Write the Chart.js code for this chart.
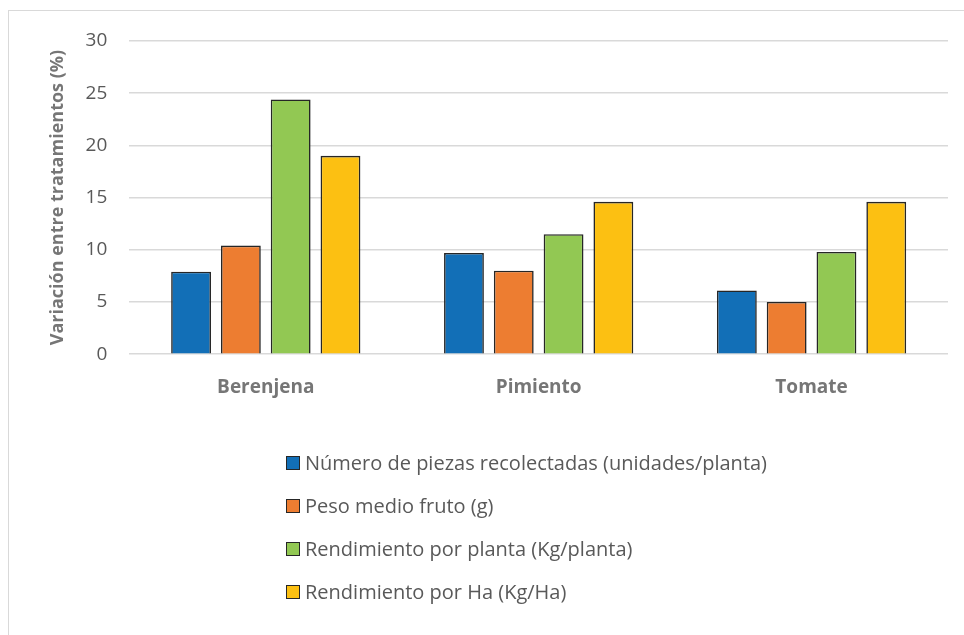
<!DOCTYPE html>
<html lang="es">
<head>
<meta charset="utf-8">
<title>Variación entre tratamientos</title>
<script src="https://cdn.jsdelivr.net/npm/chart.js@4/dist/chart.umd.min.js"></script>
<style>
  html, body { margin: 0; padding: 0; background: #ffffff; overflow: hidden; }
  #wrap { position: relative; width: 964px; height: 635px; }
  #frame { position: absolute; left: 8px; top: 10px; width: 1000px; height: 700px;
           border: 1.5px solid #d9d9d9; box-sizing: border-box; }
  #chart { position: absolute; left: 0; top: 0; }
  #legend { position: absolute; left: 286px; top: 441px; margin: 0; padding: 0; list-style: none;
            font-family: "Open Sans", sans-serif; font-size: 20px; color: #595959; }
  #legend li { display: flex; align-items: center; height: 43px; white-space: nowrap; }
  #legend .box { width: 14px; height: 14px; border: 1.5px solid #262626; box-sizing: border-box;
                 margin-right: 5px; flex: none; }
</style>
</head>
<body>
<div id="wrap">
  <div id="frame"></div>
  <canvas id="chart" width="964" height="635"></canvas>
  <ul id="legend"></ul>
</div>
<script>
// Cultivos
const categories = ['Berenjena', 'Pimiento', 'Tomate'];

// Variación (%) de cada variable por cultivo
const piezasRecolectadas = [7.9, 9.7, 6.1];
const pesoMedioFruto     = [10.4, 8.0, 5.0];
const rendPorPlanta      = [24.4, 11.5, 9.8];
const rendPorHa          = [19.0, 14.6, 14.6];

const seriesNames = [
  'Número de piezas recolectadas (unidades/planta)',
  'Peso medio fruto (g)',
  'Rendimiento por planta (Kg/planta)',
  'Rendimiento por Ha (Kg/Ha)'
];
const seriesColors = ['#126fb7', '#ed7d31', '#92c853', '#fcc012'];

const yTicks = [0, 5, 10, 15, 20, 25, 30];

const FONT = '"Open Sans", sans-serif';

const seriesValues = [piezasRecolectadas, pesoMedioFruto, rendPorPlanta, rendPorHa];
const datasets = seriesValues.map((vals, i) => ({
  label: seriesNames[i],
  data: vals,
  backgroundColor: seriesColors[i],
  borderColor: '#262626',
  borderWidth: 1.6,
  categoryPercentage: 0.73,
  barPercentage: 0.8
}));

// Vertical legend rendered as a list beneath the canvas
const htmlLegend = {
  id: 'htmlLegend',
  afterUpdate(chart) {
    const ul = document.getElementById('legend');
    ul.innerHTML = '';
    const items = Chart.defaults.plugins.legend.labels.generateLabels(chart);
    items.forEach(item => {
      const li = document.createElement('li');
      const box = document.createElement('span');
      box.className = 'box';
      box.style.background = item.fillStyle;
      const txt = document.createElement('span');
      txt.textContent = item.text;
      li.appendChild(box);
      li.appendChild(txt);
      ul.appendChild(li);
    });
  }
};

new Chart(document.getElementById('chart'), {
  type: 'bar',
  data: { labels: categories, datasets },
  options: {
    responsive: false,
    animation: false,
    layout: { padding: { top: 41, right: 16, bottom: 214, left: 0 } },
    plugins: {
      legend: { display: false },
      tooltip: { enabled: false }
    },
    scales: {
      x: {
        grid: { display: false, drawTicks: false },
        border: { display: false },
        ticks: {
          padding: 22,
          color: '#767676',
          font: { family: FONT, size: 19, weight: 'bold' }
        }
      },
      y: {
        min: 0,
        max: 30,
        afterBuildTicks(scale) { scale.ticks = yTicks.map(v => ({ value: v })); },
        grid: { color: '#d9d9d9', lineWidth: 1.5, drawTicks: false },
        border: { display: false },
        ticks: {
          padding: 22,
          color: '#595959',
          font: { family: FONT, size: 19 }
        },
        title: {
          display: true,
          text: 'Variación entre tratamientos (%)',
          color: '#767676',
          font: { family: FONT, size: 18, weight: 'bold' },
          padding: { top: 47, bottom: -5 }
        }
      }
    }
  },
  plugins: [htmlLegend]
});
</script>
</body>
</html>
